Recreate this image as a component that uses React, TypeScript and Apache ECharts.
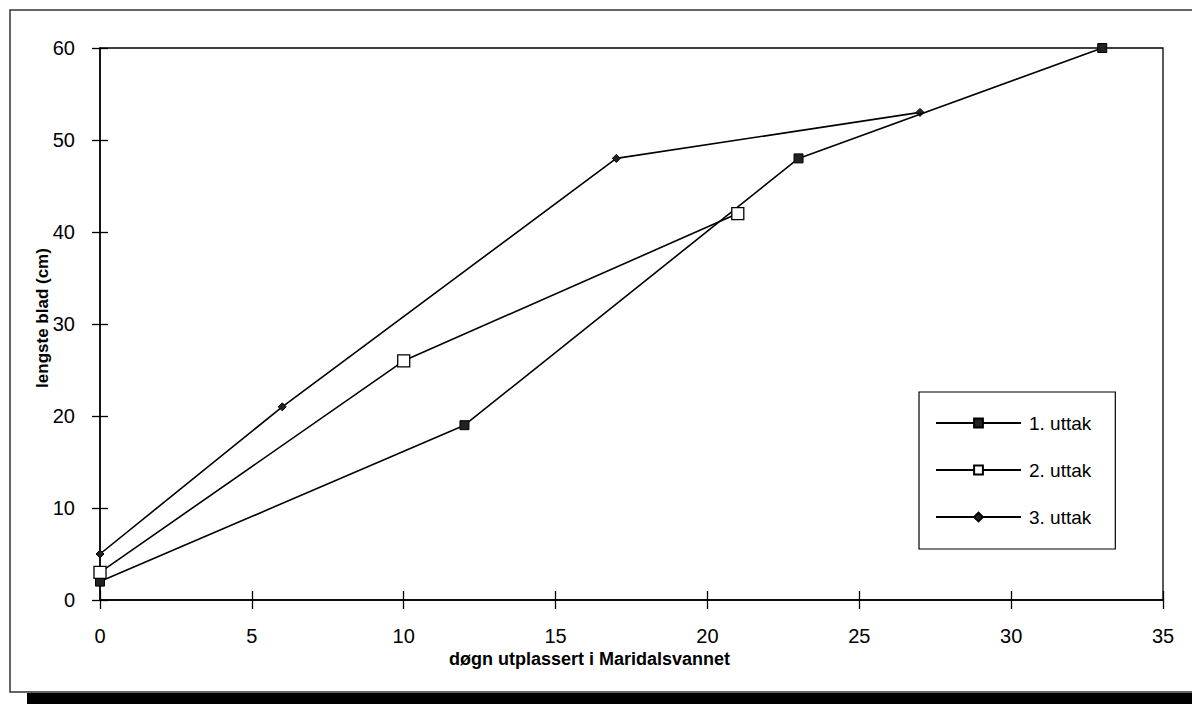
import React, { useEffect, useRef } from "react";
import * as echarts from "echarts";

const seriesNames = ["1. uttak", "2. uttak", "3. uttak"];
const uttak1: [number, number][] = [[0, 2], [12, 19], [23, 48], [33, 60]];
const uttak2: [number, number][] = [[0, 3], [10, 26], [21, 42]];
const uttak3: [number, number][] = [[0, 5], [6, 21], [17, 48], [27, 53]];
const xName = "døgn utplassert i Maridalsvannet";
const yName = "lengste blad (cm)";

const FONT = "'Liberation Sans', Arial, sans-serif";

export default function App() {
  const ref = useRef<HTMLDivElement>(null);
  useEffect(() => {
    if (!ref.current) return;
    const chart = echarts.init(ref.current, null, { renderer: "svg" });
    const g = { left: 100, top: 48, width: 1063, height: 552 };
    const line = { color: "#000", width: 1.5 };
    const tickStyle = { color: "#000", width: 1.3 };
    chart.setOption({
      animation: false,
      backgroundColor: "#fff",
      textStyle: { fontFamily: FONT, color: "#000" },
      grid: [
        { ...g, show: true, borderColor: "#000", borderWidth: 1.3 },
        { ...g, show: false },
      ],
      graphic: [
        {
          type: "rect", shape: { x: 10, y: 10, width: 1200, height: 682 },
          style: { fill: "none", stroke: "#333", lineWidth: 1.5 }, z: -10, silent: true,
        },
        {
          type: "rect", shape: { x: 27, y: 693, width: 1170, height: 12 },
          style: { fill: "#000" }, z: -10, silent: true,
        },
      ],
      legend: {
        orient: "vertical",
        left: 919, top: 392,
        padding: [21, 24, 22, 16],
        itemWidth: 85, itemHeight: 11, itemGap: 27,
        borderColor: "#000", borderWidth: 1.2,
        backgroundColor: "#fff",
        textStyle: { fontSize: 19, lineHeight: 20, color: "#000", fontFamily: FONT, padding: [0, 0, 0, 3] },
        data: seriesNames,
      },
      xAxis: [
        {
          type: "value", min: 0, max: 35, interval: 5, position: "bottom", gridIndex: 0,
          axisLine: { show: true, lineStyle: line },
          axisTick: { show: true, length: 9, lineStyle: tickStyle },
          axisLabel: { fontSize: 20, color: "#000", margin: 26, fontFamily: FONT },
          splitLine: { show: false },
          name: xName, nameLocation: "middle", nameGap: 50, nameMoveOverlap: false,
          nameTextStyle: { fontSize: 18, fontWeight: "bold", color: "#000", fontFamily: FONT, padding: [0, 84, 0, 0] },
        },
        {
          type: "value", min: 0, max: 35, interval: 5, position: "bottom", gridIndex: 1,
          axisLine: { show: false },
          axisTick: { show: true, inside: true, length: 9, lineStyle: tickStyle },
          axisLabel: { show: false }, splitLine: { show: false },
        },
      ],
      yAxis: [
        {
          type: "value", min: 0, max: 60, interval: 10, position: "left", gridIndex: 0,
          axisLine: { show: true, lineStyle: line },
          axisTick: { show: true, length: 8, lineStyle: tickStyle },
          axisLabel: { fontSize: 20, color: "#000", margin: 25, fontFamily: FONT },
          splitLine: { show: false },
          name: yName, nameLocation: "middle", nameGap: 49, nameRotate: 90, nameMoveOverlap: false,
          nameTextStyle: { fontSize: 17, fontWeight: "bold", color: "#000", fontFamily: FONT, padding: [0, 0, 0, 12] },
        },
        {
          type: "value", min: 0, max: 60, interval: 10, position: "left", gridIndex: 1,
          axisLine: { show: false },
          axisTick: { show: true, inside: true, length: 8, lineStyle: tickStyle },
          axisLabel: { show: false }, splitLine: { show: false },
        },
      ],
      series: [
        {
          name: seriesNames[0], type: "line", data: uttak1, xAxisIndex: 0, yAxisIndex: 0,
          symbol: "rect", symbolSize: 9,
          lineStyle: { color: "#000", width: 1.6 },
          itemStyle: { color: "#222", borderColor: "#000", borderWidth: 1 },
          z: 3,
        },
        {
          name: seriesNames[1], type: "line", data: uttak2, xAxisIndex: 0, yAxisIndex: 0,
          symbol: "rect", symbolSize: 12,
          lineStyle: { color: "#000", width: 1.6 },
          itemStyle: { color: "#fff", borderColor: "#000", borderWidth: 1.3 },
          z: 4,
        },
        {
          name: seriesNames[2], type: "line", data: uttak3, xAxisIndex: 0, yAxisIndex: 0,
          symbol: "diamond", symbolSize: 8,
          lineStyle: { color: "#000", width: 1.6 },
          itemStyle: { color: "#222", borderColor: "#000", borderWidth: 1 },
          z: 2,
        },
      ],
    });
    return () => chart.dispose();
  }, []);
  return (
    <div
      ref={ref}
      style={{ position: "absolute", left: 0, top: 0, width: 1192, height: 704 }}
    />
  );
}
